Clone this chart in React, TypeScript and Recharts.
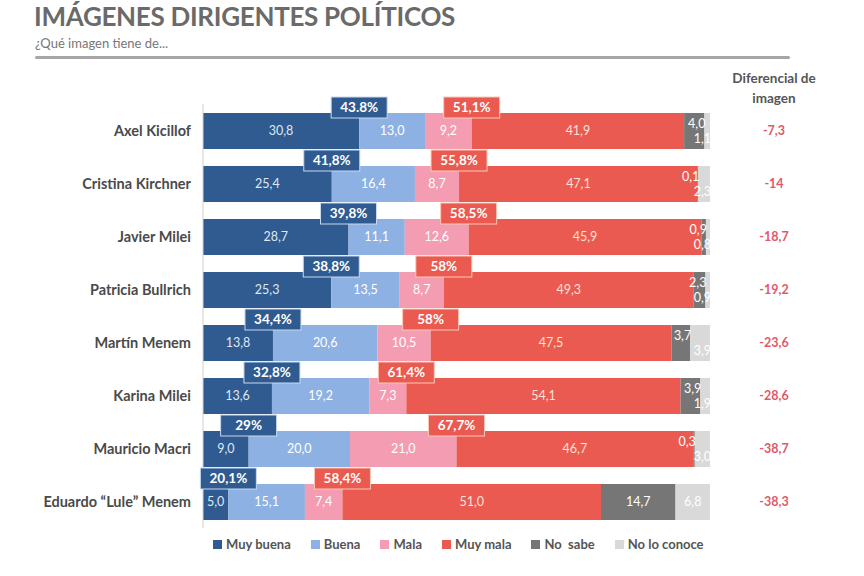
import React from "react";
import { Bar, BarChart, LabelList, XAxis, YAxis } from "recharts";

const candidates = [
  "Axel Kicillof",
  "Cristina Kirchner",
  "Javier Milei",
  "Patricia Bullrich",
  "Martín Menem",
  "Karina Milei",
  "Mauricio Macri",
  "Eduardo “Lule” Menem",
];
const muyBuena = [30.8, 25.4, 28.7, 25.3, 13.8, 13.6, 9.0, 5.0];
const buena = [13.0, 16.4, 11.1, 13.5, 20.6, 19.2, 20.0, 15.1];
const mala = [9.2, 8.7, 12.6, 8.7, 10.5, 7.3, 21.0, 7.4];
const muyMala = [41.9, 47.1, 45.9, 49.3, 47.5, 54.1, 46.7, 51.0];
const noSabe = [4.0, 0.1, 0.9, 2.3, 3.7, 3.9, 0.3, 14.7];
const noConoce = [1.1, 2.3, 0.8, 0.9, 3.9, 1.9, 3.0, 6.8];
const positiveTotals = ["43.8%", "41,8%", "39,8%", "38,8%", "34,4%", "32,8%", "29%", "20,1%"];
const negativeTotals = ["51,1%", "55,8%", "58,5%", "58%", "58%", "61,4%", "67,7%", "58,4%"];
const diferencial = ["-7,3", "-14", "-18,7", "-19,2", "-23,6", "-28,6", "-38,7", "-38,3"];

const series = [
  { key: "muyBuena", name: "Muy buena", color: "#2f5b91", text: "#dfe8f4" },
  { key: "buena", name: "Buena", color: "#8db1e2", text: "#ffffff" },
  { key: "mala", name: "Mala", color: "#f39cb2", text: "#ffffff" },
  { key: "muyMala", name: "Muy mala", color: "#ea5a50", text: "#fde3d8" },
  { key: "noSabe", name: "No  sabe", color: "#767676", text: "#ffffff" },
  { key: "noConoce", name: "No lo conoce", color: "#d9d9d9", text: "#ffffff" },
];

const data = candidates.map((name, i) => ({
  name,
  muyBuena: muyBuena[i],
  buena: buena[i],
  mala: mala[i],
  muyMala: muyMala[i],
  noSabe: noSabe[i],
  noConoce: noConoce[i],
}));

const FONT = "Lato, 'Open Sans', sans-serif";
const fmt = (v: number) => v.toFixed(1).replace(".", ",");

function segmentLabel(color: string, kind: string) {
  return (props: any) => {
    const { x, y, width, height, value } = props;
    const cy = y + height / 2;
    let tx = x + width / 2;
    let ty = cy;
    let anchor: "middle" | "end" = "middle";
    if (kind === "noSabe" && value < 5) {
      tx = x + width + 1;
      ty = cy - 7;
      anchor = "end";
    }
    if (kind === "noConoce" && value < 5) {
      tx = x + width + 1;
      ty = cy + 8;
      anchor = "end";
    }
    return (
      <text x={tx} y={ty} dy={4} textAnchor={anchor} fill={color} fontSize={12.5} fontFamily={FONT}>
        {fmt(value)}
      </text>
    );
  };
}

function totalBox(labels: string[], fill: string, stroke: string, atEnd: boolean) {
  return (props: any) => {
    const { x, y, width, index } = props;
    const cx = atEnd ? x + width : x;
    return (
      <g>
        <rect x={cx - 28} y={y - 16} width={56} height={21} fill={fill} stroke={stroke} strokeWidth={1} />
        <text
          x={cx}
          y={y - 1}
          textAnchor="middle"
          fill="#ffffff"
          fontSize={13.5}
          fontWeight={700}
          fontFamily={FONT}
        >
          {labels[index]}
        </text>
      </g>
    );
  };
}

const NameTick = (props: any) => {
  const { x, y, payload } = props;
  return (
    <text x={x - 4} y={y} dy={5} textAnchor="end" fill="#4a4a4a" fontSize={14.5} fontWeight={700} fontFamily={FONT}>
      {payload.value}
    </text>
  );
};

const DiffTick = (props: any) => {
  const { x, y, index } = props;
  return (
    <text x={x + 56} y={y} dy={4} textAnchor="middle" fill="#e0596b" fontSize={12.5} fontWeight={700} fontFamily={FONT}>
      {diferencial[index]}
    </text>
  );
};

export default function App() {
  return (
    <div
      style={{
        position: "absolute",
        left: 0,
        top: 0,
        width: 864,
        height: 576,
        background: "#ffffff",
        fontFamily: FONT,
        overflow: "hidden",
      }}
    >
      <div
        style={{
          position: "absolute",
          left: 34,
          top: 2,
          fontSize: 26,
          lineHeight: "28px",
          fontWeight: 700,
          color: "#6a6a6a",
          letterSpacing: -0.3,
        }}
      >
        IMÁGENES DIRIGENTES POLÍTICOS
      </div>
      <div style={{ position: "absolute", left: 35, top: 35, fontSize: 13, color: "#777" }}>
        ¿Qué imagen tiene de...
      </div>
      <div
        style={{
          position: "absolute",
          left: 35,
          top: 56,
          width: 755,
          height: 3,
          background: "#a6a6a6",
          borderRadius: 2,
        }}
      />
      <div
        style={{
          position: "absolute",
          left: 722,
          top: 68,
          width: 104,
          textAlign: "center",
          fontSize: 13.5,
          fontWeight: 700,
          color: "#555",
          lineHeight: "20px",
        }}
      >
        Diferencial de
        <br />
        imagen
      </div>

      <BarChart
        width={864}
        height={576}
        data={data}
        layout="vertical"
        margin={{ top: 104, right: 0, bottom: 48, left: 3 }}
        barSize={36}
        style={{ position: "absolute", left: 0, top: 0 }}
      >
        <XAxis type="number" domain={[0, 100]} hide />
        <YAxis
          yAxisId="left"
          type="category"
          dataKey="name"
          width={200}
          axisLine={{ stroke: "#d0d0d0" }}
          tickLine={false}
          tick={<NameTick />}
        />
        <YAxis
          yAxisId="right"
          orientation="right"
          type="category"
          dataKey="name"
          width={154}
          axisLine={false}
          tickLine={false}
          tick={<DiffTick />}
        />
        {series.map((s) => (
          <Bar
            key={s.key}
            yAxisId="left"
            dataKey={s.key}
            name={s.name}
            stackId="a"
            fill={s.color}
            isAnimationActive={false}
          >
            <LabelList dataKey={s.key} content={segmentLabel(s.text, s.key)} />
            {s.key === "muyBuena" ? (
              <LabelList dataKey={s.key} content={totalBox(positiveTotals, "#2f5b91", "#c9d9ef", true)} />
            ) : null}
            {s.key === "muyMala" ? (
              <LabelList dataKey={s.key} content={totalBox(negativeTotals, "#ea5a50", "#f8c9b8", false)} />
            ) : null}
          </Bar>
        ))}
      </BarChart>

      <div
        style={{
          position: "absolute",
          left: 213,
          top: 536,
          display: "flex",
          gap: 20,
          fontSize: 13,
          fontWeight: 700,
          color: "#555",
        }}
      >
        {series.map((s) => (
          <div key={s.key} style={{ display: "flex", alignItems: "center", gap: 4, whiteSpace: "pre" }}>
            <span style={{ width: 9, height: 9, background: s.color, display: "inline-block" }} />
            {s.name}
          </div>
        ))}
      </div>
    </div>
  );
}
